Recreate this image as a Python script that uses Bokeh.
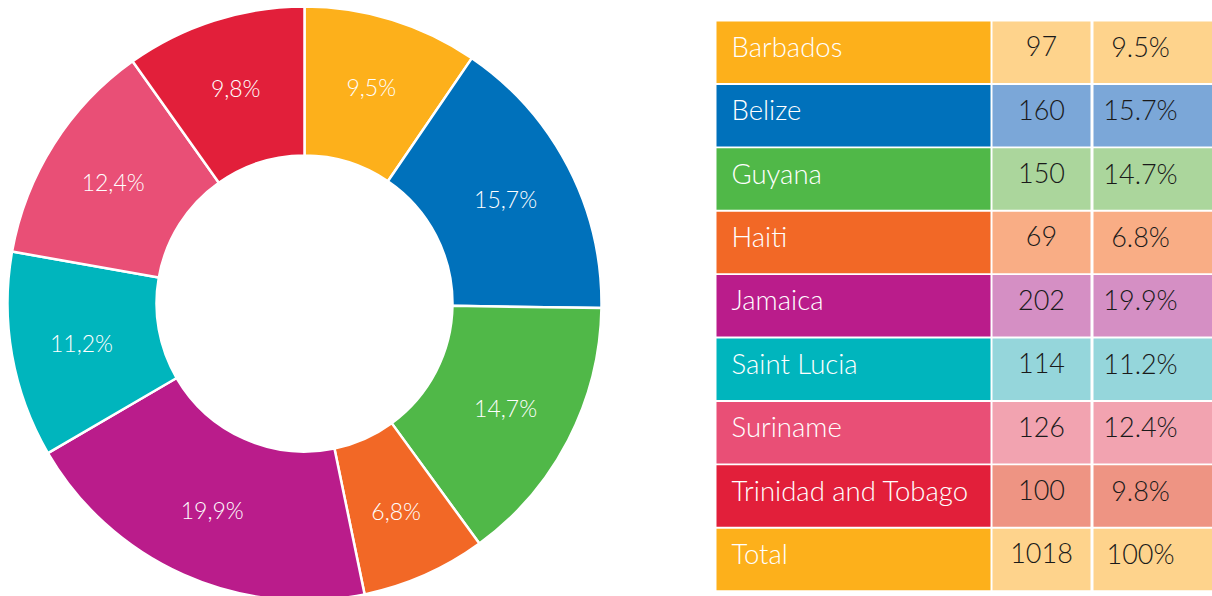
import math
from bokeh.plotting import figure
from bokeh.models import Range1d, ColumnDataSource
from bokeh.core.properties import value
from bokeh.embed import file_html
from bokeh.resources import INLINE

countries = ["Barbados", "Belize", "Guyana", "Haiti", "Jamaica", "Saint Lucia", "Suriname", "Trinidad and Tobago"]
counts = [97, 160, 150, 69, 202, 114, 126, 100]
percents = [9.5, 15.7, 14.7, 6.8, 19.9, 11.2, 12.4, 9.8]
total_label = "Total"
total_count = 1018
total_pct = "100%"
colors = ["#FDB01B", "#0071BB", "#50B848", "#F26826", "#BA1C8B", "#00B5BD", "#E94F76", "#E21F3A"]
light_colors = ["#FED38C", "#7BA7D8", "#ABD69C", "#F9AD85", "#D58FC4", "#95D6DB", "#F2A3B0", "#EE9483"]

W, H = 1212, 596
FONT = "Lato Light, Lato"

p = figure(width=W, height=H, output_backend="svg", toolbar_location=None,
           x_range=Range1d(0, W), y_range=Range1d(0, H), min_border=0)
p.axis.visible = False
p.grid.visible = False
p.outline_line_color = None
p.background_fill_color = "white"


def sy(screen_y):
    return H - screen_y


def sx(screen_x):
    return screen_x


# Donut
cx, cy = sx(304), sy(303)
r_out, r_in = 297, 148
tot = sum(counts)
starts, ends, lx, ly, labs = [], [], [], [], []
cum = 0
for c, pc in zip(counts, percents):
    a0 = math.pi / 2 - 2 * math.pi * cum / tot
    cum += c
    a1 = math.pi / 2 - 2 * math.pi * cum / tot
    starts.append(a0)
    ends.append(a1)
    mid = (a0 + a1) / 2
    rm = (r_out + r_in) / 2 + 4
    lx.append(cx + rm * math.cos(mid))
    ly.append(cy + rm * math.sin(mid))
    labs.append(f"{pc:.1f}%".replace(".", ","))

src = ColumnDataSource(dict(start=starts, end=ends, color=colors))
p.annular_wedge(x=cx, y=cy, inner_radius=r_in, outer_radius=r_out,
                start_angle="start", end_angle="end", direction="clock",
                fill_color="color", line_color="white", line_width=2.5, source=src)
p.text(x=lx, y=ly, text=labs, text_color="white", text_font=value(FONT),
       text_font_size="23px", text_align="center", text_baseline="middle")

# Table
row_top0, pitch, row_h = 21, 63.4, 61.5
cols = [(716, 990), (992, 1090), (1093, 1220)]
names = countries + [total_label]
num_txt = [str(c) for c in counts] + [str(total_count)]
pct_txt = [f"{pc:.1f}%" for pc in percents] + [total_pct]
dark = colors + [colors[0]]
light = light_colors + [light_colors[0]]

tops, bottoms = [], []
for i in range(len(names)):
    t = row_top0 + i * pitch
    tops.append(sy(t))
    bottoms.append(sy(t + row_h))
mids = [(a + b) / 2 + 6 for a, b in zip(tops, bottoms)]

p.quad(left=sx(cols[0][0]), right=sx(cols[0][1]), top=tops, bottom=bottoms,
       fill_color=dark, line_color=None)
p.quad(left=sx(cols[1][0]), right=sx(cols[1][1]), top=tops, bottom=bottoms,
       fill_color=light, line_color=None)
p.quad(left=sx(cols[2][0]), right=sx(cols[2][1]), top=tops, bottom=bottoms,
       fill_color=light, line_color=None)

p.text(x=sx(731), y=mids, text=names, text_color="white", text_font=value(FONT),
       text_font_size="27.5px", text_align="left", text_baseline="middle")
p.text(x=sx(1041), y=mids, text=num_txt, text_color="#1a1a1a", text_font=value(FONT),
       text_font_size="27px", text_align="center", text_baseline="middle")
p.text(x=sx(1140), y=mids, text=pct_txt, text_color="#1a1a1a", text_font=value(FONT),
       text_font_size="27px", text_align="center", text_baseline="middle")

open("out.html", "w").write(file_html(p, INLINE))
